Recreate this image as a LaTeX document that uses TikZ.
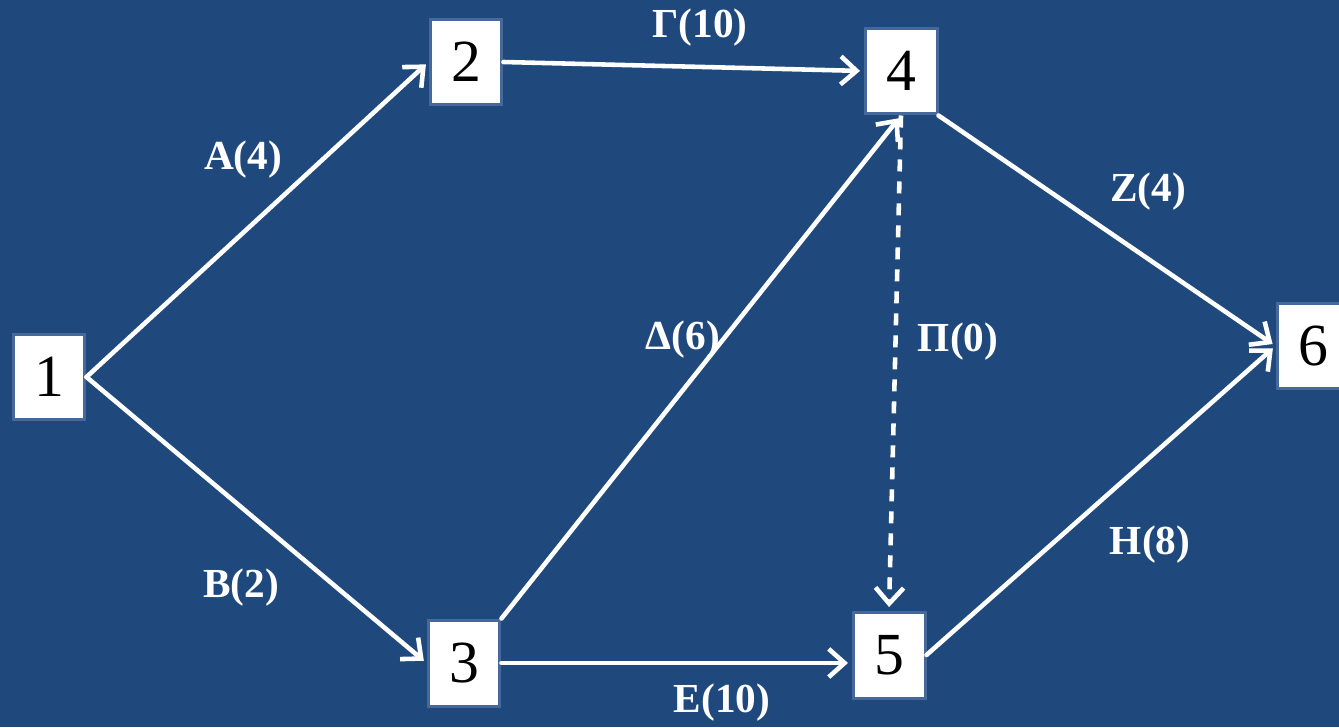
\documentclass[tikz,border=0pt]{standalone}
\usepackage{fontspec}
\setmainfont{Liberation Serif}
\usetikzlibrary{arrows.meta}
\definecolor{bgblue}{HTML}{1F497D}
\definecolor{boxedge}{HTML}{46689A}
\tikzset{
  evt/.style={rectangle, fill=white, draw=boxedge, line width=3*0.569pt,
    minimum width=1.44cm, minimum height=1.72cm, inner sep=0pt,
    font=\fontsize{34}{36}\selectfont, text=black},
  act/.style={draw=white, line width=2.6pt, line cap=round,
    -{Straight Barb[length=9pt,width=16pt,line width=2.6pt]}, shorten >=2pt},
  dum/.style={act, line cap=butt, dash pattern=on 0.24cm off 0.2cm},
  lbl/.style={text=white, font=\bfseries\fontsize{23.5}{25}\selectfont, inner sep=0pt}
}
\begin{document}
\begin{tikzpicture}[x=0.02cm,y=-0.02cm]
\useasboundingbox (0,0) rectangle (1339,727);
\clip (0,0) rectangle (1339,727);
\fill[bgblue] (0,0) rectangle (1339,727);
\node[evt] (n1) at (49,377) {1};
\node[evt] (n2) at (466,62) {2};
\node[evt] (n3) at (464,663) {3};
\node[evt] (n4) at (901,71) {4};
\node[evt] (n5) at (889,655) {5};
\node[evt] (n6) at (1313,346) {6};
\draw[act] (n1.east) -- (n2.west);
\draw[act] (n1.east) -- (n3.west);
\draw[act] (n2.east) -- (n4.west);
\draw[act] (n3.north east) -- (n4.south);
\draw[act] (n3.east) -- (n3.east -| n5.west);
\draw[dum] (n4.south) -- (n5.north);
\draw[act] (n4.south east) -- (n6.west);
\draw[act] (n5.east) -- (n6.west);
\node[lbl] (la) at (243,160) {Α(4)};
\node[lbl] (lb) at (241,588) {Β(2)};
\node[lbl] (lg) at (700,28) {Γ(10)};
\node[lbl] (ld) at (683,340) {Δ(6)};
\node[lbl] (lp) at (958,342) {Π(0)};
\node[lbl] (lz) at (1148,192) {Ζ(4)};
\node[lbl] (lh) at (1150,545) {Η(8)};
\node[lbl] (le) at (722,703) {Ε(10)};
\end{tikzpicture}
\end{document}
